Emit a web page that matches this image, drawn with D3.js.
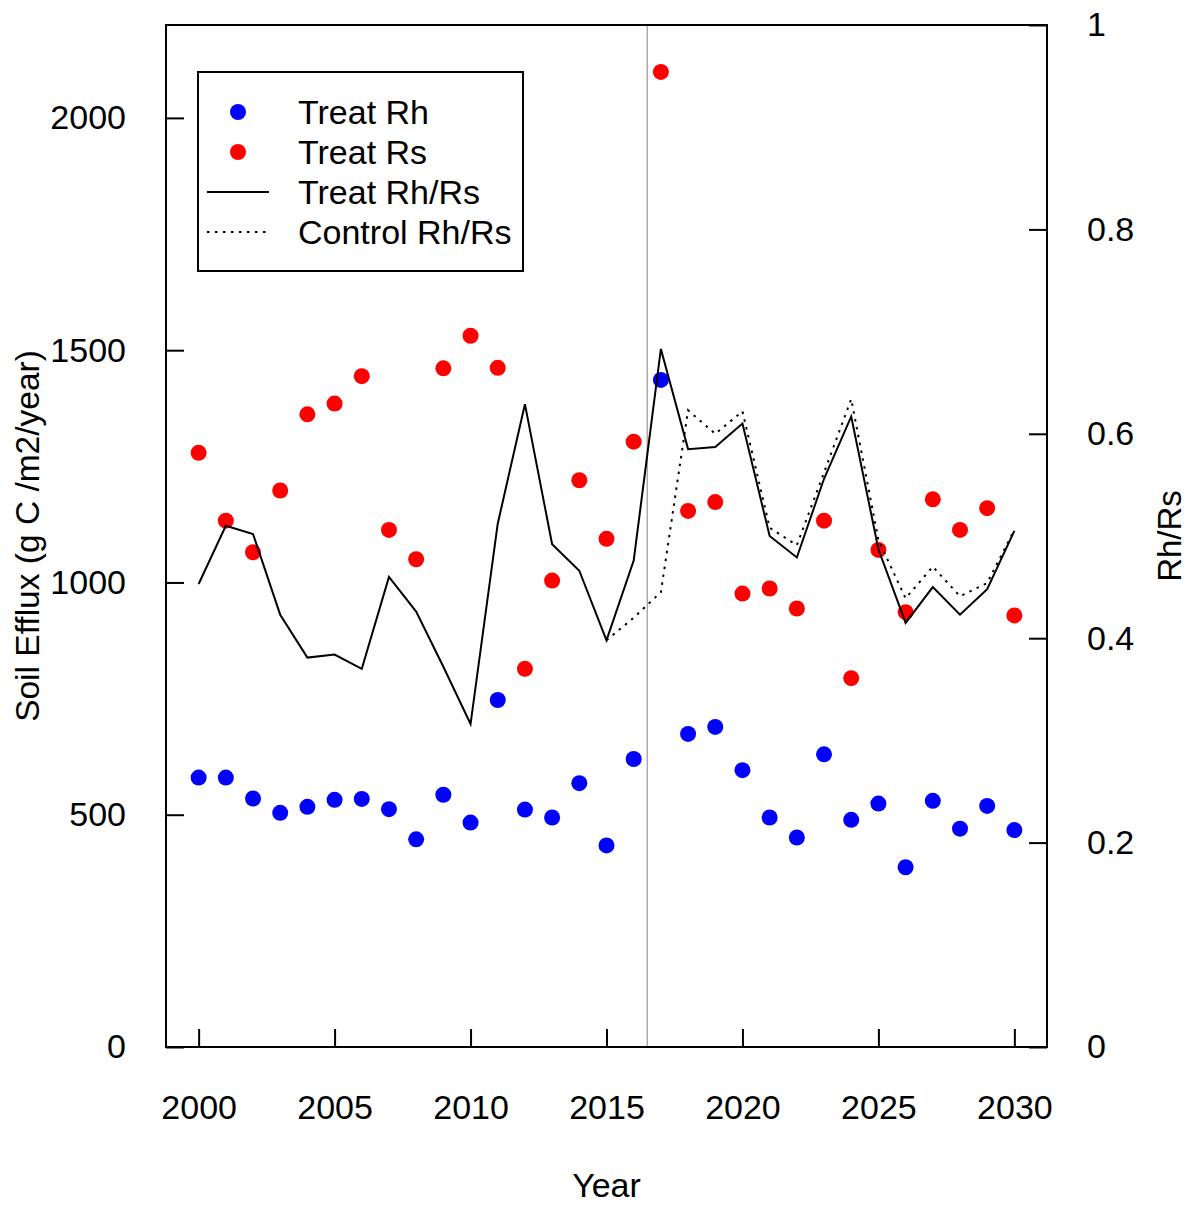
<!DOCTYPE html>
<html lang="en">
<head>
<meta charset="UTF-8">
<title>Soil Efflux</title>
<script src="https://cdn.jsdelivr.net/npm/d3@7"></script>
<style>
  body { margin: 0; background: #fff; }
  text { font-family: "Liberation Sans", Arial, sans-serif; fill: #000; }
</style>
</head>
<body>
<div id="chart"></div>
<script>
// data
const years = [2000, 2001, 2002, 2003, 2004, 2005, 2006, 2007, 2008, 2009, 2010,
               2011, 2012, 2013, 2014, 2015, 2016, 2017, 2018, 2019, 2020,
               2021, 2022, 2023, 2024, 2025, 2026, 2027, 2028, 2029, 2030];
const treatRh = [580, 580, 535, 504, 517, 532, 534, 512, 447, 543, 483,
                 747, 511, 494, 568, 434, 620, 1436, 674, 689, 596,
                 494, 451, 630, 489, 524, 387, 530, 470, 519, 467];
const treatRs = [1279, 1133, 1065, 1198, 1362, 1385, 1444, 1113, 1050, 1461, 1531,
                 1462, 814, 1004, 1220, 1094, 1303, 2099, 1154, 1173, 976,
                 987, 944, 1133, 794, 1070, 936, 1179, 1113, 1160, 929];
const treatRatio = [0.453, 0.510, 0.502, 0.423, 0.381, 0.384, 0.370, 0.460, 0.426, 0.372, 0.316,
                    0.512, 0.629, 0.492, 0.466, 0.398, 0.476, 0.683, 0.585, 0.587, 0.610,
                    0.500, 0.479, 0.556, 0.617, 0.487, 0.415, 0.450, 0.423, 0.448, 0.505];
const controlRatio = [null, null, null, null, null, null, null, null, null, null, null,
                      null, null, null, null, 0.398, 0.420, 0.445, 0.623, 0.600, 0.622,
                      0.508, 0.491, 0.562, 0.634, 0.496, 0.439, 0.470, 0.441, 0.454, 0.506];
const treatStart = 2016.5;
const xTicks = [2000, 2005, 2010, 2015, 2020, 2025, 2030];
const yTicks = [0, 500, 1000, 1500, 2000];
const rTicks = [0, 0.2, 0.4, 0.6, 0.8, 1];

const W = 1187, H = 1205;
const margin = { top: 25, right: 140, bottom: 158, left: 166 };
const width = W - margin.left - margin.right;   // 881
const height = H - margin.top - margin.bottom;  // 1022

const svg = d3.select("#chart").append("svg")
    .attr("width", W)
    .attr("height", H);

const g = svg.append("g")
    .attr("transform", `translate(${margin.left},${margin.top})`);

const x = d3.scaleLinear().domain([1998.8, 2031.2]).range([0, width]);
const y = d3.scaleLinear().domain([0, 2200]).range([height, 0]);
const yR = d3.scaleLinear().domain([0, 1]).range([height, 0]);

// axes, ticks point inward like the R plot
const fs = "34px";
function styleAxis(sel) {
  sel.select(".domain").remove();
  sel.selectAll(".tick line").attr("stroke", "#000").attr("stroke-width", 2);
  sel.selectAll(".tick text").style("font-size", fs).attr("fill", "#000");
}

g.append("g")
    .attr("transform", `translate(0,${height})`)
    .call(d3.axisBottom(x).tickValues(xTicks).tickFormat(d3.format("d"))
      .tickSizeInner(-18).tickSizeOuter(0).tickPadding(48))
    .call(styleAxis);

g.append("g")
    .call(d3.axisLeft(y).tickValues(yTicks).tickFormat(d3.format("d"))
      .tickSizeInner(-18).tickSizeOuter(0).tickPadding(40))
    .call(styleAxis);

g.append("g")
    .attr("transform", `translate(${width},0)`)
    .call(d3.axisRight(yR).tickValues(rTicks).tickFormat(d => d3.format("~g")(d))
      .tickSizeInner(-18).tickSizeOuter(0).tickPadding(40))
    .call(styleAxis);

// axis titles
g.append("text")
    .attr("x", width / 2)
    .attr("y", height + 150)
    .attr("text-anchor", "middle")
    .style("font-size", fs)
    .text("Year");

g.append("text")
    .attr("transform", `translate(${39 - margin.left},${536 - margin.top}) rotate(-90)`)
    .attr("text-anchor", "middle")
    .style("font-size", "33.5px")
    .text("Soil Efflux (g C /m2/year)");

g.append("text")
    .attr("transform", `translate(${1181 - margin.left},${536 - margin.top}) rotate(-90)`)
    .attr("text-anchor", "middle")
    .style("font-size", "33px")
    .text("Rh/Rs");

// points
const r = 8;
g.selectAll(".rs").data(years).enter().append("circle")
    .attr("class", "rs")
    .attr("cx", (d) => x(d))
    .attr("cy", (d, i) => y(treatRs[i]))
    .attr("r", r)
    .attr("fill", "#ff0000");

g.selectAll(".rh").data(years).enter().append("circle")
    .attr("class", "rh")
    .attr("cx", (d) => x(d))
    .attr("cy", (d, i) => y(treatRh[i]))
    .attr("r", r)
    .attr("fill", "#0000ff");

// treatment start marker
g.append("line")
    .attr("x1", x(treatStart)).attr("x2", x(treatStart))
    .attr("y1", 0).attr("y2", height)
    .attr("stroke", "#aaaaaa")
    .attr("stroke-width", 1.5);

// ratio lines on the right axis
const ratioLine = d3.line()
    .defined(d => d[1] != null)
    .x(d => x(d[0]))
    .y(d => yR(d[1]));

g.append("path")
    .datum(years.map((yr, i) => [yr, controlRatio[i]]))
    .attr("d", ratioLine)
    .attr("fill", "none")
    .attr("stroke", "#000")
    .attr("stroke-width", 2)
    .attr("stroke-dasharray", "2.5,5.5");

g.append("path")
    .datum(years.map((yr, i) => [yr, treatRatio[i]]))
    .attr("d", ratioLine)
    .attr("fill", "none")
    .attr("stroke", "#000")
    .attr("stroke-width", 2);

// plot box
g.append("rect")
    .attr("width", width)
    .attr("height", height)
    .attr("fill", "none")
    .attr("stroke", "#000")
    .attr("stroke-width", 2);

// legend
const lg = svg.append("g");
lg.append("rect")
    .attr("x", 198).attr("y", 72)
    .attr("width", 325).attr("height", 199)
    .attr("fill", "#fff")
    .attr("stroke", "#000")
    .attr("stroke-width", 2);

const legendItems = [
  { label: "Treat Rh", type: "dot", color: "#0000ff" },
  { label: "Treat Rs", type: "dot", color: "#ff0000" },
  { label: "Treat Rh/Rs", type: "line", dash: null },
  { label: "Control Rh/Rs", type: "line", dash: "2.5,5.5" }
];

legendItems.forEach((it, i) => {
  const cy = 112 + i * 40;
  if (it.type === "dot") {
    lg.append("circle").attr("cx", 238).attr("cy", cy).attr("r", r).attr("fill", it.color);
  } else {
    lg.append("line")
        .attr("x1", 207).attr("x2", 269)
        .attr("y1", cy).attr("y2", cy)
        .attr("stroke", "#000")
        .attr("stroke-width", 2)
        .attr("stroke-dasharray", it.dash);
  }
  lg.append("text")
      .attr("x", 298)
      .attr("y", cy + 12)
      .style("font-size", fs)
      .text(it.label);
});
</script>
</body>
</html>
